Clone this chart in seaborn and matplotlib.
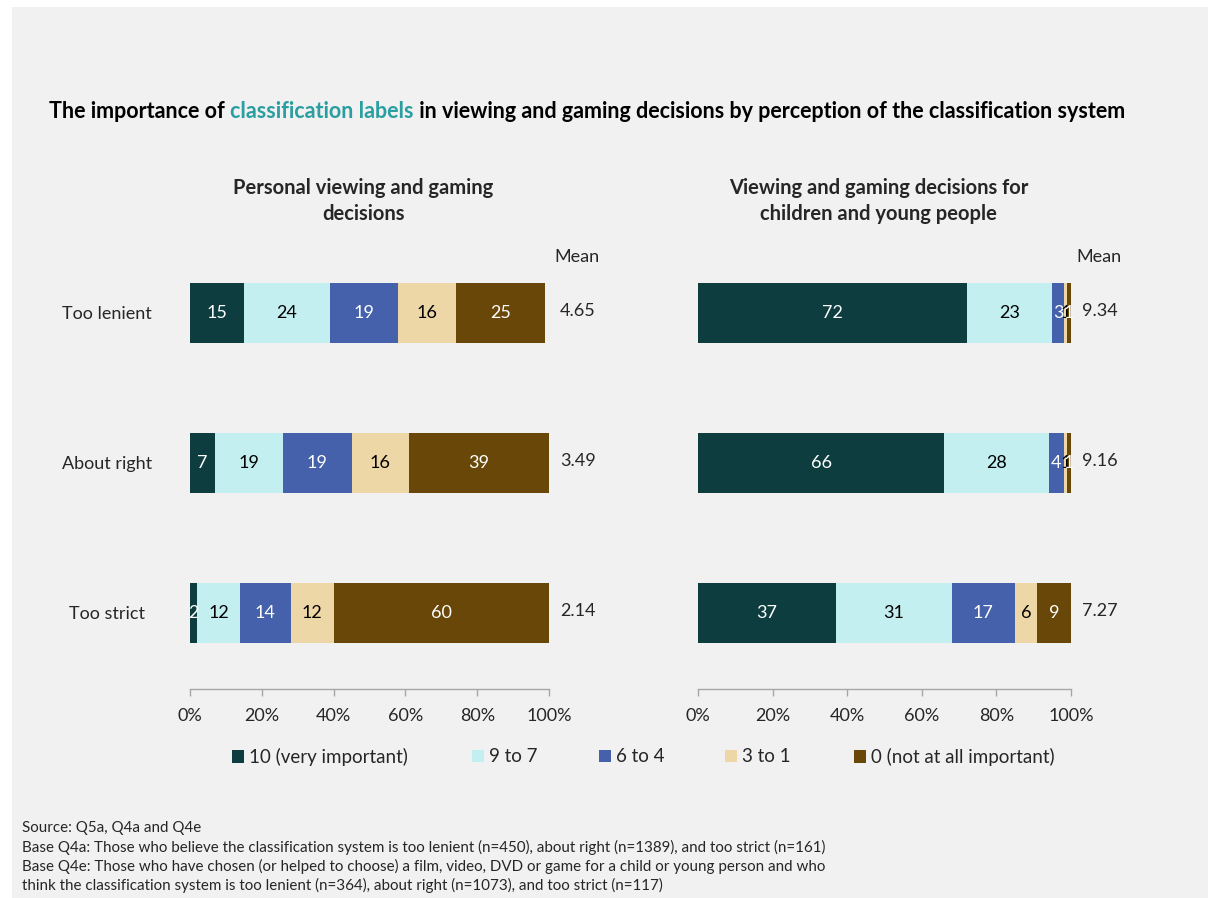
import matplotlib
matplotlib.use("Agg")
import matplotlib.pyplot as plt
from matplotlib.patches import Rectangle, Patch
import numpy as np
import pandas as pd
import seaborn as sns

# ---- data -------------------------------------------------------------
groups = ["Too lenient", "About right", "Too strict"]
series = ["10 (very important)", "9 to 7", "6 to 4", "3 to 1", "0 (not at all important)"]
colors = ["#0D3D3F", "#C4EFF1", "#4661AC", "#EED7A7", "#684708"]
text_colors = ["white", "black", "white", "black", "white"]

personal_values = [
    [15, 24, 19, 16, 25],
    [7, 19, 19, 16, 39],
    [2, 12, 14, 12, 60],
]
children_values = [
    [72, 23, 3, 1, 1],
    [66, 28, 4, 1, 1],
    [37, 31, 17, 6, 9],
]
personal_means = ["4.65", "3.49", "2.14"]
children_means = ["9.34", "9.16", "7.27"]

panel_titles = ["Personal viewing and gaming\ndecisions",
                "Viewing and gaming decisions for\nchildren and young people"]
tick_values = [0, 20, 40, 60, 80, 100]
tick_labels = ["0%", "20%", "40%", "60%", "80%", "100%"]

source_lines = [
    "Source: Q5a, Q4a and Q4e",
    "Base Q4a: Those who believe the classification system is too lenient (n=450), about right (n=1389), and too strict (n=161)",
    "Base Q4e: Those who have chosen (or helped to choose) a film, video, DVD or game for a child or young person and who",
    "think the classification system is too lenient (n=364), about right (n=1073), and too strict (n=117)",
]

# ---- style --------------------------------------------------------------
sns.set_theme(style="white")
plt.rcParams["font.family"] = ["Lato", "DejaVu Sans"]
BG = "#F1F1F1"
AXIS_GREY = "#A6A6A6"

W, H = 1208, 898
fig = plt.figure(figsize=(W / 100, H / 100), dpi=100, facecolor="white")
fig.patches.append(Rectangle((12 / W, 0), 1 - 12 / W, 1 - 7 / H,
                             transform=fig.transFigure, facecolor=BG,
                             edgecolor="none", zorder=-10))


def fx(px):
    return px / W


def fy(py):
    return 1 - py / H


def long_frame(values):
    rows = []
    for g, vals in zip(groups, values):
        cum = np.cumsum(vals)
        for s, v, c in zip(series, vals, cum):
            rows.append({"group": g, "series": s, "value": v, "cum": c})
    return pd.DataFrame(rows)


# axes placement (pixels): x range of 0..100%, y from top (-0.5) to axis line
top_px, bottom_px = 238, 689
panels = [
    (190, 549, personal_values, personal_means, panel_titles[0]),
    (698, 1071, children_values, children_means, panel_titles[1]),
]

for i, (x0, x1, values, means, ptitle) in enumerate(panels):
    ax = fig.add_axes([fx(x0), fy(bottom_px), (x1 - x0) / W, (bottom_px - top_px) / H])
    ax.set_facecolor("none")
    df = long_frame(values)
    # stacked bars: draw cumulative totals from the outermost segment inwards
    for s, col in reversed(list(zip(series, colors))):
        sub = df[df["series"] == s]
        sns.barplot(data=sub, x="cum", y="group", order=groups, color=col,
                    saturation=1, width=0.4, orient="h", ax=ax, zorder=2,
                    linewidth=0)
    # segment value labels
    for _, r in df.iterrows():
        k = series.index(r["series"])
        yi = groups.index(r["group"])
        ax.text(r["cum"] - r["value"] / 2, yi, f"{r['value']}", ha="center",
                va="center", color=text_colors[k], fontsize=13, zorder=3)
    # means column
    ax.text(101.5, -0.37, "Mean", ha="left", va="center", fontsize=13, clip_on=False)
    for yi, m in enumerate(means):
        ax.text(103, yi - 0.01, m, ha="left", va="center", fontsize=13, clip_on=False)

    ax.set_xlim(0, 100)
    ax.set_ylim(2.507, -0.5)
    ax.set_xticks(tick_values)
    ax.set_xticklabels(tick_labels, fontsize=13)
    ax.tick_params(axis="x", direction="out", length=5, width=1, color=AXIS_GREY,
                   pad=9, bottom=True)
    for sp in ["top", "right", "left"]:
        ax.spines[sp].set_visible(False)
    ax.spines["bottom"].set_color(AXIS_GREY)
    ax.spines["bottom"].set_linewidth(1)
    ax.set_xlabel("")
    ax.set_ylabel("")
    if i == 0:
        ax.set_yticks(range(len(groups)))
        ax.set_yticklabels(groups, fontsize=13, ha="center")
        ax.tick_params(axis="y", left=False, pad=53.5)
    else:
        ax.set_yticks([])
    ax.grid(False)

    fig.text(fx((x0 + x1) / 2 - 6), fy(201), ptitle, ha="center", va="center",
             fontsize=14.5, fontweight="bold", linespacing=1.4)

# ---- main title with highlighted phrase, fitted to its line ---------------
title_parts = [("The importance of ", "black"),
               ("classification labels", "#2A9EA0"),
               (" in viewing and gaming decisions by perception of the classification system", "black")]
title_left, title_right = 49, 1133
fig.canvas.draw()
renderer = fig.canvas.get_renderer()
probe = fig.text(0, 0, "".join(p[0] for p in title_parts), fontsize=14, fontweight="bold")
probe_w = probe.get_window_extent(renderer=renderer).width
probe.remove()
title_size = 14 * (title_right - title_left) / probe_w
x_cursor = fx(title_left)
for txt, col in title_parts:
    t = fig.text(x_cursor, fy(112), txt, color=col, fontsize=title_size,
                 fontweight="bold", ha="left", va="center")
    bb = t.get_window_extent(renderer=renderer)
    x_cursor += bb.width / W

# ---- legend --------------------------------------------------------------
legend_x = [232, 472, 599, 725, 854]
for xpos, s, col in zip(legend_x, series, colors):
    fig.legend(handles=[Patch(facecolor=col, edgecolor="none", label=s)],
               loc="center left", bbox_to_anchor=(fx(xpos), fy(757)),
               frameon=False, fontsize=13.5, handlelength=0.62, handleheight=0.62,
               handletextpad=0.3, borderpad=0, borderaxespad=0)

# ---- notes ------------------------------------------------------------
for k, line in enumerate(source_lines):
    fig.text(fx(22), fy(828 + 19.3 * k), line, ha="left", va="center", fontsize=10.9)

fig.savefig("out.png", dpi=100, facecolor="white")
